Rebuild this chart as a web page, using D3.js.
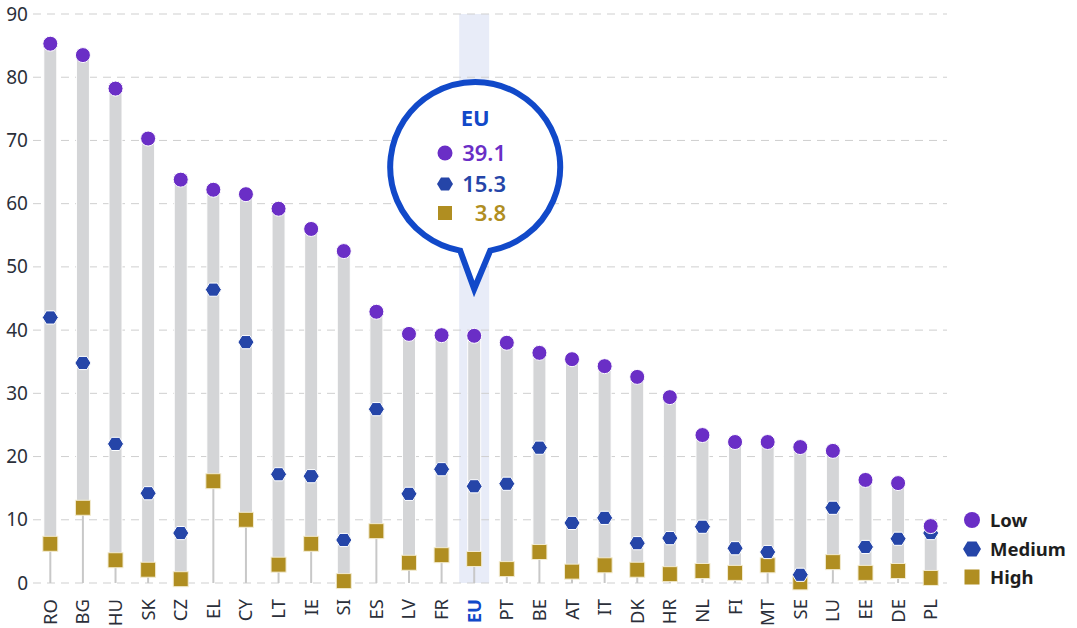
<!DOCTYPE html>
<html>
<head>
<meta charset="utf-8">
<script src="https://cdn.jsdelivr.net/npm/d3@7"></script>
<style>
  body { margin: 0; background: #fff; }
  svg { font-family: "Noto Sans", "Open Sans", sans-serif; }
</style>
</head>
<body>
<div id="chart"></div>
<script>
const width = 1077, height = 628;

const countries = ["RO","BG","HU","SK","CZ","EL","CY","LT","IE","SI","ES","LV","FR","EU","PT","BE","AT","IT","DK","HR","NL","FI","MT","SE","LU","EE","DE","PL"];
const low    = [85.3, 83.5, 78.2, 70.3, 63.8, 62.2, 61.5, 59.2, 56.0, 52.5, 42.9, 39.4, 39.2, 39.1, 38.0, 36.4, 35.4, 34.3, 32.6, 29.4, 23.4, 22.3, 22.3, 21.5, 20.9, 16.3, 15.8, 9.0];
const medium = [42.0, 34.8, 22.0, 14.2, 7.9, 46.4, 38.1, 17.2, 16.9, 6.8, 27.5, 14.1, 18.0, 15.3, 15.7, 21.4, 9.5, 10.3, 6.3, 7.1, 8.9, 5.5, 4.9, 1.3, 11.9, 5.7, 7.0, 7.9];
const high   = [6.2, 11.9, 3.6, 2.1, 0.6, 16.1, 10.0, 2.9, 6.2, 0.3, 8.2, 3.2, 4.4, 3.8, 2.2, 4.9, 1.8, 2.8, 2.1, 1.4, 1.9, 1.6, 2.8, 0.1, 3.3, 1.6, 1.9, 0.8];
const yTicks = [0, 10, 20, 30, 40, 50, 60, 70, 80, 90];
const legendLabels = ["Low", "Medium", "High"];

const colLow = "#6a2ec6", colMed = "#2545a8", colHigh = "#b08e21";
const highlight = "EU";

const data = countries.map((c, i) => ({ c, low: low[i], med: medium[i], high: high[i] }));

const x = d3.scalePoint().domain(countries).range([34, 947]).padding(0.5);
const y = d3.scaleLinear().domain([0, 90]).range([583, 14]);

const svg = d3.select("#chart").append("svg")
    .attr("width", width)
    .attr("height", height);

// highlight band for EU
svg.append("rect")
    .attr("x", x(highlight) - 15)
    .attr("y", y(90))
    .attr("width", 30)
    .attr("height", y(0) - y(90))
    .attr("fill", "#e8ecf8");

// grid
const grid = svg.append("g");
grid.selectAll("line")
    .data(yTicks)
    .enter()
    .append("line")
    .attr("x1", 33).attr("x2", 947)
    .attr("y1", d => y(d)).attr("y2", d => y(d))
    .attr("stroke", "#cfcfcf")
    .attr("stroke-width", 1)
    .attr("stroke-dasharray", "8,6");

svg.append("g")
    .attr("transform", "translate(33,0)")
    .call(d3.axisLeft(y).tickValues(yTicks).tickSize(0).tickPadding(5))
    .call(g => g.select(".domain").remove())
    .selectAll("text")
    .attr("font-size", 19)
    .attr("fill", "#2b2f3a")
    .attr("font-family", "Noto Sans, sans-serif");

// x labels
svg.append("g")
    .selectAll("text")
    .data(countries)
    .enter()
    .append("text")
    .attr("transform", d => `translate(${x(d) + 6.5},599) rotate(-90)`)
    .attr("text-anchor", "end")
    .attr("font-size", 18.5)
    .attr("font-weight", d => d === highlight ? "bold" : "normal")
    .attr("fill", d => d === highlight ? "#1149c9" : "#2b2f3a")
    .text(d => d);

// stems from 0 to high
svg.append("g")
    .selectAll("line")
    .data(data)
    .enter()
    .append("line")
    .attr("x1", d => x(d.c)).attr("x2", d => x(d.c))
    .attr("y1", y(0)).attr("y2", d => y(d.high))
    .attr("stroke", "#c8c8c8")
    .attr("stroke-width", 2);

// range bars
svg.append("g")
    .selectAll("rect")
    .data(data)
    .enter()
    .append("rect")
    .attr("x", d => x(d.c) - 6.5)
    .attr("width", 13)
    .attr("y", d => y(d.low))
    .attr("height", d => y(d.high) - y(d.low))
    .attr("fill", "#d4d5d7")
    .attr("stroke", "#fff")
    .attr("stroke-width", 1);

const hexPath = r => {
  const pts = d3.range(6).map(k => {
    const a = Math.PI / 3 * k;
    return [r * Math.cos(a), r * Math.sin(a) * 0.95];
  });
  return "M" + pts.map(p => p.join(",")).join("L") + "Z";
};

// high squares
svg.append("g")
    .selectAll("rect")
    .data(data)
    .enter()
    .append("rect")
    .attr("x", d => x(d.c) - 7.5)
    .attr("y", d => y(d.high) - 7.5)
    .attr("width", 15).attr("height", 15)
    .attr("fill", colHigh)
    .attr("stroke", "#f3ecd2")
    .attr("stroke-width", 1);

// medium hexagons
svg.append("g")
    .selectAll("path")
    .data(data)
    .enter()
    .append("path")
    .attr("transform", d => `translate(${x(d.c)},${y(d.med)})`)
    .attr("d", hexPath(8))
    .attr("fill", colMed)
    .attr("stroke", "#fff")
    .attr("stroke-width", 1);

// low circles
svg.append("g")
    .selectAll("circle")
    .data(data)
    .enter()
    .append("circle")
    .attr("cx", d => x(d.c))
    .attr("cy", d => y(d.low))
    .attr("r", 7.5)
    .attr("fill", colLow)
    .attr("stroke", "#fff")
    .attr("stroke-width", 1);

// callout for EU
const eu = data.find(d => d.c === highlight);
const cx = x(highlight) + 1, cy = 167, R = 85;
const tipY = 289;
const a1 = Math.asin(15 / R);
const callout = d3.path();
callout.moveTo(cx + 15, cy + R * Math.cos(a1));
callout.arc(cx, cy, R, Math.PI / 2 - a1, Math.PI / 2 + a1 - 2 * Math.PI, true);
callout.lineTo(cx - 1, tipY);
callout.closePath();
svg.append("path")
    .attr("d", callout.toString())
    .attr("fill", "#fff")
    .attr("stroke", "#1149c9")
    .attr("stroke-width", 6)
    .attr("stroke-linejoin", "miter");

svg.append("text")
    .attr("x", cx).attr("y", 126)
    .attr("text-anchor", "middle")
    .attr("font-size", 22)
    .attr("font-weight", "bold")
    .attr("fill", "#1149c9")
    .text(highlight);

const rows = [
  { v: eu.low, col: colLow, shape: "circle", yy: 153 },
  { v: eu.med, col: colMed, shape: "hex", yy: 184 },
  { v: eu.high, col: colHigh, shape: "square", yy: 213 }
];
rows.forEach(r => {
  if (r.shape === "circle") {
    svg.append("circle").attr("cx", 445).attr("cy", r.yy).attr("r", 7.5).attr("fill", r.col);
  } else if (r.shape === "hex") {
    svg.append("path").attr("transform", `translate(445,${r.yy})`).attr("d", hexPath(8)).attr("fill", r.col);
  } else {
    svg.append("rect").attr("x", 438).attr("y", r.yy - 7).attr("width", 14).attr("height", 14).attr("fill", r.col);
  }
  svg.append("text")
    .attr("x", 506).attr("y", r.yy + 8)
    .attr("text-anchor", "end")
    .attr("font-size", 22)
    .attr("font-weight", 600)
    .attr("fill", r.col)
    .text(d3.format(".1f")(r.v));
});

// legend
const legY = [520, 549, 577];
const legCols = [colLow, colMed, colHigh];
const leg = svg.append("g");
legendLabels.forEach((lab, i) => {
  if (i === 0) {
    leg.append("circle").attr("cx", 972).attr("cy", legY[i]).attr("r", 8).attr("fill", legCols[i]);
  } else if (i === 1) {
    leg.append("path").attr("transform", `translate(972,${legY[i]})`).attr("d", hexPath(9)).attr("fill", legCols[i]);
  } else {
    leg.append("rect").attr("x", 964.5).attr("y", legY[i] - 7.5).attr("width", 15).attr("height", 15).attr("fill", legCols[i]);
  }
  leg.append("text")
    .attr("x", 990).attr("y", legY[i] + 6.5)
    .attr("font-size", 18.5)
    .attr("font-weight", "bold")
    .attr("fill", "#1e1e1e")
    .text(lab);
});
</script>
</body>
</html>
